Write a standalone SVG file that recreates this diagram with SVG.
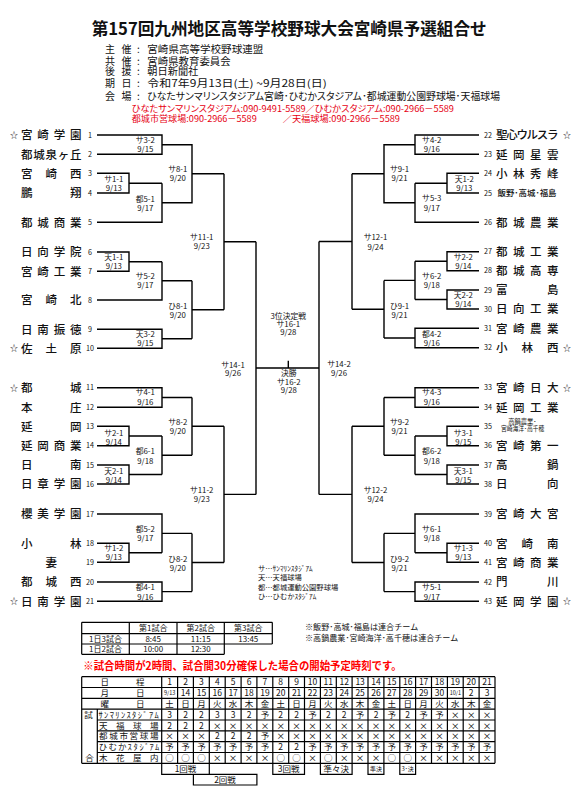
<svg xmlns="http://www.w3.org/2000/svg" width="575" height="793" viewBox="0 0 575 793">
<style>
text{font-family:'Noto Sans CJK JP','Noto Sans',sans-serif;fill:#111}
.title{font-size:17px;font-weight:bold}
.h{font-size:10px;font-feature-settings:"palt"}
.red{font-size:8.6px;fill:#e60012;font-feature-settings:"palt"}
.tm{font-size:11.5px;font-weight:500}
.sm{font-size:8.5px;font-weight:500}
.no{font-size:7.2px;text-anchor:middle}
.st{font-size:8px;text-anchor:middle}
.m{font-size:7.8px;text-anchor:middle}
.ln{fill:none;stroke:#000;stroke-width:1.4}
.tb{fill:none;stroke:#000;stroke-width:1.2}
.c{font-size:8.5px;text-anchor:middle}
.s{font-size:8.5px}
.n8{font-size:8px}
.lg{font-size:7.3px}
</style>
<rect width="575" height="793" fill="#fff"/>

<g id="header">
<text class="title" x="91.7" y="34.8" textLength="395" lengthAdjust="spacingAndGlyphs">第157回九州地区高等学校野球大会宮崎県予選組合せ</text>
<text class="h" x="105 121.5 137" y="52.8">主催:</text>
<text class="h" x="147.3" y="52.8" textLength="116" lengthAdjust="spacingAndGlyphs">宮崎県高等学校野球連盟</text>
<text class="h" x="105 121.5 137" y="64.5">共催:</text>
<text class="h" x="147.3" y="64.5" textLength="83.4" lengthAdjust="spacingAndGlyphs">宮崎県教育委員会</text>
<text class="h" x="105 121.5 137" y="75.2">後援:</text>
<text class="h" x="147.3" y="75.2" textLength="51" lengthAdjust="spacingAndGlyphs">朝日新聞社</text>
<text class="h" x="105 121.5 137" y="87.2">期日:</text>
<text class="h" x="147.3" y="87.2" textLength="179.4" lengthAdjust="spacingAndGlyphs">令和7年9月13日(土) ~9月28日(日)</text>
<text class="h" x="105 121.5 137" y="100.2">会場:</text>
<text class="h" x="147.3" y="100.2" textLength="352.7" lengthAdjust="spacingAndGlyphs">ひなたサンマリンスタジアム宮崎･ひむかスタジアム･都城運動公園野球場･天福球場</text>
<text class="red" x="131.7" y="111.8" textLength="322.3" lengthAdjust="spacingAndGlyphs">ひなたサンマリンスタジアム:090-9491-5589／ひむかスタジアム:090-2966－5589</text>
<text class="red" x="131.7" y="122.4" textLength="125" lengthAdjust="spacingAndGlyphs">都城市営球場:090-2966－5589</text>
<text class="red" x="282.7" y="122.4" textLength="117.3" lengthAdjust="spacingAndGlyphs">／天福球場:090-2966－5589</text>
</g>

<g id="connectors">
<path class="ln" d="M97 135H162V154.3H97M97 173.3H129V193H97M129 183.2H162M97 222.3H162V183.2M162 144.7H192V202.7H162M192 173.7H224
M97 252H129V271.3H97M129 261.7H162M97 300H162V261.7M162 280.8H192M97 329.3H162V348.3H97M162 338.8H192M192 280.8V338.8M192 309.8H224M224 173.7V309.8M224 241.7H256
M97 387.7H162V407.3H97M162 397.5H192M97 426.3H129V445.7H97M129 436H162M97 465H129V484H97M129 474.5H162M162 436V474.5M162 455.2H192M192 397.5V455.2M192 426.3H224
M97 514H162V552.8M97 543.3H129V562.3H97M129 552.8H162M162 533.4H192M97 582H162V601.3H97M162 591.6H192M192 533.4V591.6M192 562.5H224M224 426.3V562.5M224 494.4H256
M256 241.7V494.4M256 368H319M288.3 360.7V368
M479 135H415V154.3H479M479 173.3H447V193H479M447 183.2H415M479 222.3H415V183.2M415 144.7H384V202.7H415M384 173.7H352
M479 251.7H447V270.7H479M447 261.2H415M479 290H447V309H479M447 299.5H415M415 261.2V299.5M415 280.4H384M479 328.3H415V347.7H479M415 338H384M384 280.4V338M384 309.2H352M352 173.7V309.2M352 241.5H319
M479 387.7H415V407.3H479M415 397.5H384M479 426.3H447V445.7H479M447 436H415M479 465H447V484H479M447 474.5H415M415 436V474.5M415 455.2H384M384 397.5V455.2M384 426.3H352
M479 514H415V552.8M479 543.3H447V562.3H479M447 552.8H415M415 533.4H384M479 582H415V601.3H479M415 591.6H384M384 533.4V591.6M384 562.5H352M352 426.3V562.5M352 494.4H319M319 241.5V494.4"/>
<g id="match-labels">
<text class="m" x="145.3" y="142.8">サ3-2<tspan x="145.3" y="151.8">9/15</tspan></text>
<text class="m" x="113.8" y="182">サ1-1<tspan x="113.8" y="191">9/13</tspan></text>
<text class="m" x="145.3" y="201.8">都5-1<tspan x="145.3" y="210.8">9/17</tspan></text>
<text class="m" x="177.8" y="172">サ8-1<tspan x="177.8" y="181">9/20</tspan></text>
<text class="m" x="201.7" y="240">サ11-1<tspan x="201.7" y="249.4">9/23</tspan></text>
<text class="m" x="113.8" y="259.8">天1-1<tspan x="113.8" y="268.8">9/13</tspan></text>
<text class="m" x="145.3" y="278.8">サ5-2<tspan x="145.3" y="287.8">9/17</tspan></text>
<text class="m" x="177.8" y="308.8">ひ8-1<tspan x="177.8" y="317.8">9/20</tspan></text>
<text class="m" x="145.3" y="336.8">天3-2<tspan x="145.3" y="345.8">9/15</tspan></text>
<text class="m" x="233" y="367.6">サ14-1<tspan x="233" y="375.8">9/26</tspan></text>
<text class="m" x="145.3" y="394.8">サ4-1<tspan x="145.3" y="404.6">9/16</tspan></text>
<text class="m" x="177.8" y="424.8">サ8-2<tspan x="177.8" y="433.8">9/20</tspan></text>
<text class="m" x="113.8" y="435.8">サ2-1<tspan x="113.8" y="444.8">9/14</tspan></text>
<text class="m" x="145.3" y="453.8">都6-1<tspan x="145.3" y="463.6">9/18</tspan></text>
<text class="m" x="113.8" y="473.8">天2-1<tspan x="113.8" y="482.8">9/14</tspan></text>
<text class="m" x="201.7" y="492.8">サ11-2<tspan x="201.7" y="501.8">9/23</tspan></text>
<text class="m" x="145.3" y="531.8">都5-2<tspan x="145.3" y="540.8">9/17</tspan></text>
<text class="m" x="113.8" y="550.8">サ1-2<tspan x="113.8" y="559.8">9/13</tspan></text>
<text class="m" x="177.8" y="561.8">ひ8-2<tspan x="177.8" y="570.8">9/20</tspan></text>
<text class="m" x="145.3" y="589.8">都4-1<tspan x="145.3" y="599.6">9/16</tspan></text>
<text class="m" x="288.3" y="318.5">3位決定戦<tspan x="288.3" y="326.8">サ16-1</tspan><tspan x="288.3" y="335.1">9/28</tspan></text>
<text class="m" x="288.8" y="376.1">決勝<tspan x="288.8" y="384.5">サ16-2</tspan><tspan x="288.8" y="392.8">9/28</tspan></text>
<text class="m" x="431.7" y="142.8">サ4-2<tspan x="431.7" y="151.8">9/16</tspan></text>
<text class="m" x="464.3" y="181.8">天1-2<tspan x="464.3" y="190.8">9/13</tspan></text>
<text class="m" x="399.5" y="171.8">サ9-1<tspan x="399.5" y="180.8">9/21</tspan></text>
<text class="m" x="431.7" y="200.8">サ5-3<tspan x="431.7" y="210.6">9/17</tspan></text>
<text class="m" x="375.5" y="239.8">サ12-1<tspan x="375.5" y="249.6">9/24</tspan></text>
<text class="m" x="463.3" y="259.8">サ2-2<tspan x="463.3" y="268.8">9/14</tspan></text>
<text class="m" x="431.7" y="278.8">サ6-2<tspan x="431.7" y="287.8">9/18</tspan></text>
<text class="m" x="463.3" y="297.8">天2-2<tspan x="463.3" y="306.8">9/14</tspan></text>
<text class="m" x="399.5" y="308.8">ひ9-1<tspan x="399.5" y="317.8">9/21</tspan></text>
<text class="m" x="431.7" y="336.8">都4-2<tspan x="431.7" y="345.8">9/16</tspan></text>
<text class="m" x="339" y="367.2">サ14-2<tspan x="339" y="375.8">9/26</tspan></text>
<text class="m" x="431.7" y="394.8">サ4-3<tspan x="431.7" y="404.6">9/16</tspan></text>
<text class="m" x="399.5" y="424.8">サ9-2<tspan x="399.5" y="433.8">9/21</tspan></text>
<text class="m" x="463.3" y="435.8">サ3-1<tspan x="463.3" y="444.8">9/15</tspan></text>
<text class="m" x="431.7" y="453.8">都6-2<tspan x="431.7" y="463.6">9/18</tspan></text>
<text class="m" x="463.3" y="473.8">天3-1<tspan x="463.3" y="482.8">9/15</tspan></text>
<text class="m" x="375.5" y="492.8">サ12-2<tspan x="375.5" y="501.8">9/24</tspan></text>
<text class="m" x="431.7" y="531.8">サ6-1<tspan x="431.7" y="540.8">9/18</tspan></text>
<text class="m" x="463.3" y="550.8">サ1-3<tspan x="463.3" y="559.8">9/13</tspan></text>
<text class="m" x="399.5" y="561.8">ひ9-2<tspan x="399.5" y="570.8">9/21</tspan></text>
<text class="m" x="431.7" y="589.8">サ5-1<tspan x="431.7" y="599.6">9/17</tspan></text>
</g>
</g>

<g id="teams-left">
<g id="t1"><text class="st" x="14" y="138">☆</text><text class="tm" x="21 37.3 53.7 70" y="139.2">宮崎学園</text><text class="no" x="90" y="137.6">1</text></g>
<g id="t2"><text class="tm" x="21 33.25 45.5 57.75 70" y="158.5">都城泉ヶ丘</text><text class="no" x="90" y="156.9">2</text></g>
<g id="t3"><text class="tm" x="21 45.5 70" y="177.5">宮崎西</text><text class="no" x="90" y="175.9">3</text></g>
<g id="t4"><text class="tm" x="21 70" y="197.2">鵬翔</text><text class="no" x="90" y="195.6">4</text></g>
<g id="t5"><text class="tm" x="21 37.3 53.7 70" y="226.5">都城商業</text><text class="no" x="90" y="224.9">5</text></g>
<g id="t6"><text class="tm" x="21 37.3 53.7 70" y="256.2">日向学院</text><text class="no" x="90" y="254.6">6</text></g>
<g id="t7"><text class="tm" x="21 37.3 53.7 70" y="275.5">宮崎工業</text><text class="no" x="90" y="273.9">7</text></g>
<g id="t8"><text class="tm" x="21 45.5 70" y="304.2">宮崎北</text><text class="no" x="90" y="302.6">8</text></g>
<g id="t9"><text class="tm" x="21 37.3 53.7 70" y="333.5">日南振徳</text><text class="no" x="90" y="331.9">9</text></g>
<g id="t10"><text class="st" x="14" y="351.3">☆</text><text class="tm" x="21 45.5 70" y="352.5">佐土原</text><text class="no" x="90" y="350.9">10</text></g>
<g id="t11"><text class="st" x="14" y="390.7">☆</text><text class="tm" x="21 70" y="391.9">都城</text><text class="no" x="90" y="390.3">11</text></g>
<g id="t12"><text class="tm" x="21 70" y="411.5">本庄</text><text class="no" x="90" y="409.9">12</text></g>
<g id="t13"><text class="tm" x="21 70" y="430.5">延岡</text><text class="no" x="90" y="428.9">13</text></g>
<g id="t14"><text class="tm" x="21 37.3 53.7 70" y="449.9">延岡商業</text><text class="no" x="90" y="448.3">14</text></g>
<g id="t15"><text class="tm" x="21 70" y="469.2">日南</text><text class="no" x="90" y="467.6">15</text></g>
<g id="t16"><text class="tm" x="21 37.3 53.7 70" y="488.2">日章学園</text><text class="no" x="90" y="486.6">16</text></g>
<g id="t17"><text class="tm" x="21 37.3 53.7 70" y="518.2">櫻美学園</text><text class="no" x="90" y="516.6">17</text></g>
<g id="t18"><text class="tm" x="21 70" y="547.5">小林</text><text class="no" x="90" y="545.9">18</text></g>
<g id="t19"><text class="tm" x="45.5" y="566.5">妻</text><text class="no" x="90" y="564.9">19</text></g>
<g id="t20"><text class="tm" x="21 45.5 70" y="586.2">都城西</text><text class="no" x="90" y="584.6">20</text></g>
<g id="t21"><text class="st" x="14" y="604.3">☆</text><text class="tm" x="21 37.3 53.7 70" y="605.5">日南学園</text><text class="no" x="90" y="603.9">21</text></g>
</g>

<g id="teams-right">
<g id="t22"><text class="no" x="488" y="137.6">22</text><text class="tm" x="496 506.2 516.4 526.6 536.8 547" y="139.2">聖心ウルスラ</text><text class="st" x="567" y="138">☆</text></g>
<g id="t23"><text class="no" x="488" y="156.9">23</text><text class="tm" x="496 513 530 547" y="158.5">延岡星雲</text></g>
<g id="t24"><text class="no" x="488" y="175.9">24</text><text class="tm" x="496 513 530 547" y="177.5">小林秀峰</text></g>
<g id="t25"><text class="no" x="488" y="195.6">25</text><text class="sm" x="497.5" y="196" textLength="59" lengthAdjust="spacingAndGlyphs">飯野･高城･福島</text></g>
<g id="t26"><text class="no" x="488" y="224.9">26</text><text class="tm" x="496 513 530 547" y="226.5">都城農業</text></g>
<g id="t27"><text class="no" x="488" y="254.3">27</text><text class="tm" x="496 513 530 547" y="255.9">都城工業</text></g>
<g id="t28"><text class="no" x="488" y="273.3">28</text><text class="tm" x="496 513 530 547" y="274.9">都城高専</text></g>
<g id="t29"><text class="no" x="488" y="292.6">29</text><text class="tm" x="496 547" y="294.2">富島</text></g>
<g id="t30"><text class="no" x="488" y="311.6">30</text><text class="tm" x="496 513 530 547" y="313.2">日向工業</text></g>
<g id="t31"><text class="no" x="488" y="330.9">31</text><text class="tm" x="496 513 530 547" y="332.5">宮崎農業</text></g>
<g id="t32"><text class="no" x="488" y="350.3">32</text><text class="tm" x="496 521.5 547" y="351.9">小林西</text><text class="st" x="567" y="350.7">☆</text></g>
<g id="t33"><text class="no" x="488" y="390.3">33</text><text class="tm" x="496 513 530 547" y="391.9">宮崎日大</text><text class="st" x="567" y="390.7">☆</text></g>
<g id="t34"><text class="no" x="488" y="409.9">34</text><text class="tm" x="496 513 530 547" y="411.5">延岡工業</text></g>
<g id="t35"><text class="no" x="488" y="428.9">35</text><text style="font-size:6.3px;text-anchor:middle" x="522.3" y="424">高鍋農業･</text><text style="font-size:6.3px" x="501" y="431.3" textLength="43.3" lengthAdjust="spacingAndGlyphs">宮崎海洋･高千穂</text></g>
<g id="t36"><text class="no" x="488" y="448.3">36</text><text class="tm" x="496 513 530 547" y="449.9">宮崎第一</text></g>
<g id="t37"><text class="no" x="488" y="467.6">37</text><text class="tm" x="496 547" y="469.2">高鍋</text></g>
<g id="t38"><text class="no" x="488" y="486.6">38</text><text class="tm" x="496 547" y="488.2">日向</text></g>
<g id="t39"><text class="no" x="488" y="516.6">39</text><text class="tm" x="496 513 530 547" y="518.2">宮崎大宮</text></g>
<g id="t40"><text class="no" x="488" y="545.9">40</text><text class="tm" x="496 521.5 547" y="547.5">宮崎南</text></g>
<g id="t41"><text class="no" x="488" y="564.9">41</text><text class="tm" x="496 513 530 547" y="566.5">宮崎商業</text></g>
<g id="t42"><text class="no" x="488" y="584.6">42</text><text class="tm" x="496 547" y="586.2">門川</text></g>
<g id="t43"><text class="no" x="488" y="603.9">43</text><text class="tm" x="496 513 530 547" y="605.5">延岡学園</text><text class="st" x="567" y="604.3">☆</text></g>
</g>

<g id="legend">
<text class="lg" x="258" y="570.6">サ…ｻﾝﾏﾘﾝｽﾀｼﾞｱﾑ</text>
<text class="lg" x="258" y="579.6">天…天福球場</text>
<text class="lg" x="258" y="589.6">都…都城運動公園野球場</text>
<text class="lg" x="258" y="598.6">ひ…ひむかｽﾀｼﾞｱﾑ</text>
</g>

<g id="times-table">
<path class="tb" d="M81.7 622.3H272.3M81.7 633.7H272.3M81.7 644H272.3M81.7 654.3H224.3M81.7 622.3V654.3M129.3 622.3V654.3M177 622.3V654.3M224.3 622.3V654.3M272.3 622.3V644"/>
<text class="c" style="font-size:8px" x="153.2" y="631">第1試合</text>
<text class="c" style="font-size:8px" x="200.7" y="631">第2試合</text>
<text class="c" style="font-size:8px" x="248.3" y="631">第3試合</text>
<text class="c" style="font-size:8px" x="105.5" y="641.8">1日3試合</text>
<text class="c" style="font-size:8px" x="153.2" y="641.8">8:45</text>
<text class="c" style="font-size:8px" x="200.7" y="641.8">11:15</text>
<text class="c" style="font-size:8px" x="248.3" y="641.8">13:45</text>
<text class="c" style="font-size:8px" x="105.5" y="652.2">1日2試合</text>
<text class="c" style="font-size:8px" x="153.2" y="652.2">10:00</text>
<text class="c" style="font-size:8px" x="200.7" y="652.2">12:30</text>
</g>

<g id="notes">
<text class="n8" x="305" y="629.6" textLength="113.3" lengthAdjust="spacingAndGlyphs">※飯野･高城･福島は連合チーム</text>
<text class="n8" x="305" y="640.6" textLength="153.3" lengthAdjust="spacingAndGlyphs">※高鍋農業･宮崎海洋･高千穂は連合チーム</text>
<text x="83.3" y="669.6" style="font-size:11px;font-weight:bold;fill:#ff0000" textLength="318.4" lengthAdjust="spacingAndGlyphs">※試合時間が2時間、試合間30分確保した場合の開始予定時刻です。</text>
</g>

<g id="schedule-table">
<path class="tb" d="M81.7 676.7H495M81.7 687.5H495M81.7 698.4H495M81.7 709.2H495M97.3 720H495M97.3 730.9H495M97.3 741.7H495M97.3 752.5H495M81.7 763.3H495
M81.7 676.7V763.3M97.3 709.2V763.3M161.7 676.7V763.3M177.6 676.7V763.3M193.4 676.7V763.3M209.3 676.7V763.3M225.2 676.7V763.3M241.1 676.7V763.3M256.9 676.7V763.3M272.8 676.7V763.3M288.7 676.7V763.3M304.5 676.7V763.3M320.4 676.7V763.3M336.3 676.7V763.3M352.1 676.7V763.3M368 676.7V763.3M383.9 676.7V763.3M399.8 676.7V763.3M415.6 676.7V763.3M431.5 676.7V763.3M447.4 676.7V763.3M463.2 676.7V763.3M479.1 676.7V763.3M495 676.7V763.3"/>
<text class="s" x="100.5 136" y="685.2">日程</text>
<text class="s" x="100.5 136" y="696.1">月日</text>
<text class="s" x="100.5 136" y="706.9">曜日</text>
<text class="c" x="88.5" y="717.7">試</text>
<text class="c" x="89.5" y="761">合</text>
<text class="s" x="98.5 104.1 109.7 115.3 120.9 126.5 132.1 137.7 143.3 148.9 154.5" y="717.7">ｻﾝﾏﾘﾝｽﾀｼﾞｱﾑ</text>
<text class="s" x="99 116 133 150" y="728.6">天福球場</text>
<text class="s" x="99 109.2 119.4 129.6 139.8 150" y="739.4">都城市営球場</text>
<text class="s" x="98.8 108.4 118 127.6 133.6 139.6 145 149.6 155" y="750.2">ひむかｽﾀｼﾞｱﾑ</text>
<text class="s" x="99 116 133 150" y="761">木花屋内</text>
<text class="c" y="685.2"><tspan x="169.6">1</tspan><tspan x="185.5">2</tspan><tspan x="201.4">3</tspan><tspan x="217.3">4</tspan><tspan x="233.1">5</tspan><tspan x="249">6</tspan><tspan x="264.9">7</tspan><tspan x="280.7">8</tspan><tspan x="296.6">9</tspan><tspan x="312.5">10</tspan><tspan x="328.3">11</tspan><tspan x="344.2">12</tspan><tspan x="360.1">13</tspan><tspan x="376">14</tspan><tspan x="391.8">15</tspan><tspan x="407.7">16</tspan><tspan x="423.6">17</tspan><tspan x="439.4">18</tspan><tspan x="455.3">19</tspan><tspan x="471.2">20</tspan><tspan x="487">21</tspan></text>
<text class="c" y="696.1"><tspan x="169.6" y="695.3" style="font-size:5.5px">9/13</tspan><tspan x="185.5" y="696.1">14</tspan><tspan x="201.4">15</tspan><tspan x="217.3">16</tspan><tspan x="233.1">17</tspan><tspan x="249">18</tspan><tspan x="264.9">19</tspan><tspan x="280.7">20</tspan><tspan x="296.6">21</tspan><tspan x="312.5">22</tspan><tspan x="328.3">23</tspan><tspan x="344.2">24</tspan><tspan x="360.1">25</tspan><tspan x="376">26</tspan><tspan x="391.8">27</tspan><tspan x="407.7">28</tspan><tspan x="423.6">29</tspan><tspan x="439.4">30</tspan><tspan x="455.3" y="695.3" style="font-size:5.5px">10/1</tspan><tspan x="471.2" y="696.1">2</tspan><tspan x="487">3</tspan></text>
<text class="c" x="169.6 185.5 201.4 217.3 233.1 249 264.9 280.7 296.6 312.5 328.3 344.2 360.1 376 391.8 407.7 423.6 439.4 455.3 471.2 487" y="706.9">土日月火水木金土日月火水木金土日月火水木金</text>
<text class="c" x="169.6 185.5 201.4 217.3 233.1 249 264.9 280.7 296.6 312.5 328.3 344.2 360.1 376 391.8 407.7 423.6 439.4 455.3 471.2 487" y="717.7">322332予22予22予2予2予予×××</text>
<text class="c" x="169.6 185.5 201.4 217.3 233.1 249 264.9 280.7 296.6 312.5 328.3 344.2 360.1 376 391.8 407.7 423.6 439.4 455.3 471.2 487" y="728.6">222××××××××××××××××××</text>
<text class="c" x="169.6 185.5 201.4 217.3 233.1 249 264.9 280.7 296.6 312.5 328.3 344.2 360.1 376 391.8 407.7 423.6 439.4 455.3 471.2 487" y="739.4">×××222予××××××××××××××</text>
<text class="c" x="169.6 185.5 201.4 217.3 233.1 249 264.9 280.7 296.6 312.5 328.3 344.2 360.1 376 391.8 407.7 423.6 439.4 455.3 471.2 487" y="750.2">予予予予予予予22予予予予予予予予予予予予</text>
<text class="c" x="169.6 185.5 201.4 217.3 233.1 249 264.9 280.7 296.6 312.5 328.3 344.2 360.1 376 391.8 407.7 423.6 439.4 455.3 471.2 487" y="761">○○○××××○○×○×××○○×××××</text>
</g>

<g id="rounds">
<path class="tb" d="M161.7 763.3V774.3H209.3V763.3M193.4 774.3V785H256.9V774.3H209.3M272.8 763.3V774.3H304.5V763.3M320.4 763.3V774.3H352.1V763.3M368 763.3V774.3H383.9V763.3M399.8 763.3V774.3H415.6V763.3"/>
<text class="c" x="185.5" y="772">1回戦</text>
<text class="c" x="225" y="782.7">2回戦</text>
<text class="c" x="288.7" y="772">3回戦</text>
<text class="c" x="336.3" y="772">準々決</text>
<text class="c" style="font-size:6px" x="376" y="771.2">準決</text>
<text class="c" style="font-size:6px" x="407.7" y="771.2">3･決</text>
</g>
</svg>
